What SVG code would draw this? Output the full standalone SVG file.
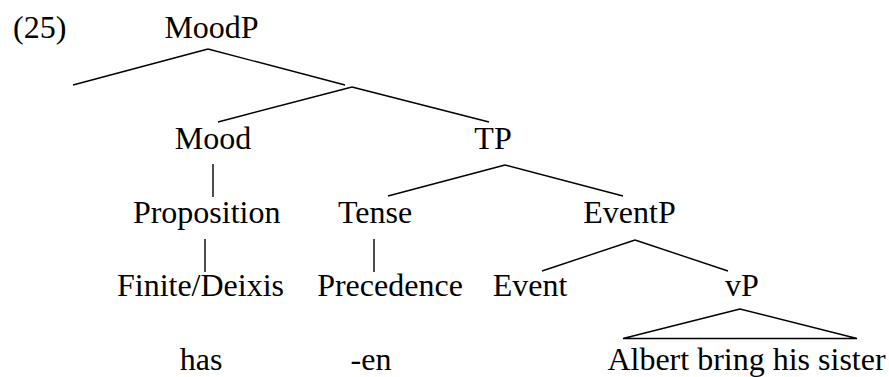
<svg xmlns="http://www.w3.org/2000/svg" width="889" height="377" viewBox="0 0 889 377">
  <style>
    text { font-family: "Liberation Serif", "Times New Roman", serif; font-size: 32px; fill: #000; text-anchor: middle; }
    .edge { stroke: #000; stroke-width: 1.4; fill: none; stroke-linecap: butt; }
  </style>
  <rect width="889" height="377" fill="#fff"/>

  <!-- example number -->
  <text x="13" y="38" style="text-anchor:start">(25)</text>

  <!-- tree branches -->
  <g id="connectors">
    <line class="edge" x1="208" y1="49" x2="73" y2="85"/>
    <line class="edge" x1="208" y1="49" x2="345" y2="85"/>
    <line class="edge" x1="352" y1="87" x2="218" y2="122"/>
    <line class="edge" x1="352" y1="87" x2="489" y2="122"/>
    <line class="edge" x1="213" y1="164" x2="213" y2="197"/>
    <line class="edge" x1="205" y1="239" x2="205" y2="272"/>
    <line class="edge" x1="505" y1="165" x2="388" y2="196"/>
    <line class="edge" x1="505" y1="165" x2="623" y2="196"/>
    <line class="edge" x1="374" y1="239" x2="374" y2="272"/>
    <line class="edge" x1="635" y1="240" x2="542" y2="271"/>
    <line class="edge" x1="635" y1="240" x2="728" y2="271"/>
    <polygon class="edge" points="740,309 623,338.5 857,338.5"/>
  </g>

  <g id="MoodP"><text x="211.5" y="38">MoodP</text></g>
  <g id="Mood"><text x="213" y="149">Mood</text></g>
  <g id="TP"><text x="493" y="149">TP</text></g>
  <g id="Proposition"><text x="206.7" y="223">Proposition</text></g>
  <g id="Tense"><text x="375" y="223">Tense</text></g>
  <g id="EventP"><text x="629.5" y="223">EventP</text></g>
  <g id="FiniteDeixis"><text x="200.5" y="296">Finite/Deixis</text></g>
  <g id="Precedence"><text x="390" y="296">Precedence</text></g>
  <g id="Event"><text x="530" y="296">Event</text></g>
  <g id="vP"><text x="742" y="296">vP</text></g>
  <g id="has"><text x="201" y="370">has</text></g>
  <g id="en"><text x="371" y="370">-en</text></g>
  <g id="vP-content"><text x="746.5" y="370">Albert bring his sister</text></g>
</svg>
